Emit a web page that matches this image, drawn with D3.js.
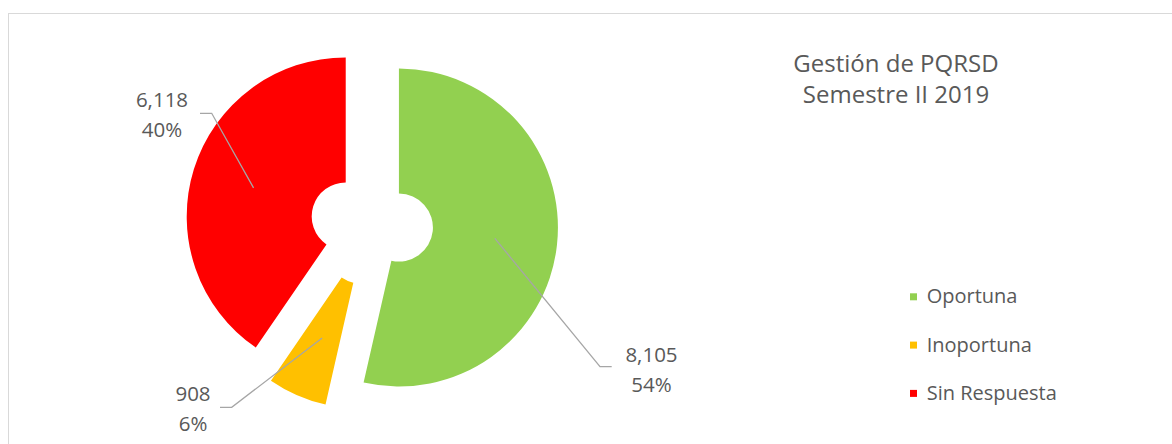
<!DOCTYPE html>
<html>
<head>
<meta charset="utf-8">
<script src="https://cdn.jsdelivr.net/npm/d3@7"></script>
<style>
  html, body { margin: 0; padding: 0; background: #fff; }
  svg { display: block; }
  text { font-family: "Open Sans", "Noto Sans", sans-serif; fill: #595959; }
</style>
</head>
<body>
<svg id="chart" width="1172" height="444"></svg>
<script>
// ---- data ----
const categories = ["Oportuna", "Inoportuna", "Sin Respuesta"];
const values = [8105, 908, 6118];
const percentLabels = ["54%", "6%", "40%"];
const colors = ["#92D050", "#FFC000", "#FF0000"];
const titleLines = ["Gestión de PQRSD", "Semestre II 2019"];

// ---- layout ----
const W = 1172, H = 444;
const cx = 371.8, cy = 224.5;
const outerR = 159, innerR = 34, explode = 27.3;

const svg = d3.select("#chart");

// chart border
svg.append("rect")
  .attr("x", 8.5).attr("y", 13.5)
  .attr("width", W + 20).attr("height", H + 20)
  .attr("fill", "none").attr("stroke", "#D9D9D9").attr("stroke-width", 1);

const pie = d3.pie().sort(null).value(d => d)
  .startAngle(0).endAngle(2 * Math.PI);
const arcs = pie(values);
const arc = d3.arc().innerRadius(innerR).outerRadius(outerR);
const midArc = d3.arc().innerRadius((innerR + outerR) / 2).outerRadius((innerR + outerR) / 2);

function offset(a) {
  const m = (a.startAngle + a.endAngle) / 2;
  return [explode * Math.sin(m), -explode * Math.cos(m)];
}

const g = svg.append("g").attr("transform", `translate(${cx},${cy})`);

g.selectAll("path.slice")
  .data(arcs)
  .join("path")
  .attr("class", "slice")
  .attr("transform", d => { const o = offset(d); return `translate(${o[0]},${o[1]})`; })
  .attr("d", arc)
  .attr("fill", (d, i) => colors[i]);

// label layout (elbow, line end, label centre) in page coordinates
const labelLayout = [
  { elbow: [600, 366.7], end: [611.7, 366.7], tx: 651.5, ty: 361.7 },
  { elbow: [231.7, 407.3], end: [220, 407.3], tx: 193, ty: 400.7 },
  { elbow: [211.7, 113.3], end: [200, 113.3], tx: 162, ty: 106.7 }
];
const fmt = d3.format(",");

arcs.forEach((d, i) => {
  const o = offset(d);
  const c = midArc.centroid(d);
  const start = [cx + o[0] + c[0], cy + o[1] + c[1]];
  const L = labelLayout[i];
  svg.append("polyline")
    .attr("points", [start, L.elbow, L.end].map(p => p.join(",")).join(" "))
    .attr("fill", "none").attr("stroke", "#A6A6A6").attr("stroke-width", 1.3);
  const t = svg.append("text")
    .attr("text-anchor", "middle")
    .attr("font-size", 20.5);
  t.append("tspan").attr("x", L.tx).attr("y", L.ty).text(fmt(values[i]));
  t.append("tspan").attr("x", L.tx).attr("y", L.ty + 30).text(percentLabels[i]);
});

// title
const title = svg.append("text").attr("text-anchor", "middle").attr("font-size", 24);
titleLines.forEach((s, i) => {
  title.append("tspan").attr("x", 896).attr("y", 71.7 + i * 31.5).text(s);
});

// legend
const legend = svg.append("g").attr("transform", "translate(910,303.3)");
categories.forEach((c, i) => {
  const row = legend.append("g").attr("transform", `translate(0,${i * 48.3})`);
  row.append("rect").attr("x", 0).attr("y", -10).attr("width", 7).attr("height", 7)
    .attr("fill", colors[i]);
  row.append("text").attr("x", 16.7).attr("y", 0).attr("font-size", 20).text(c);
});
</script>
</body>
</html>
